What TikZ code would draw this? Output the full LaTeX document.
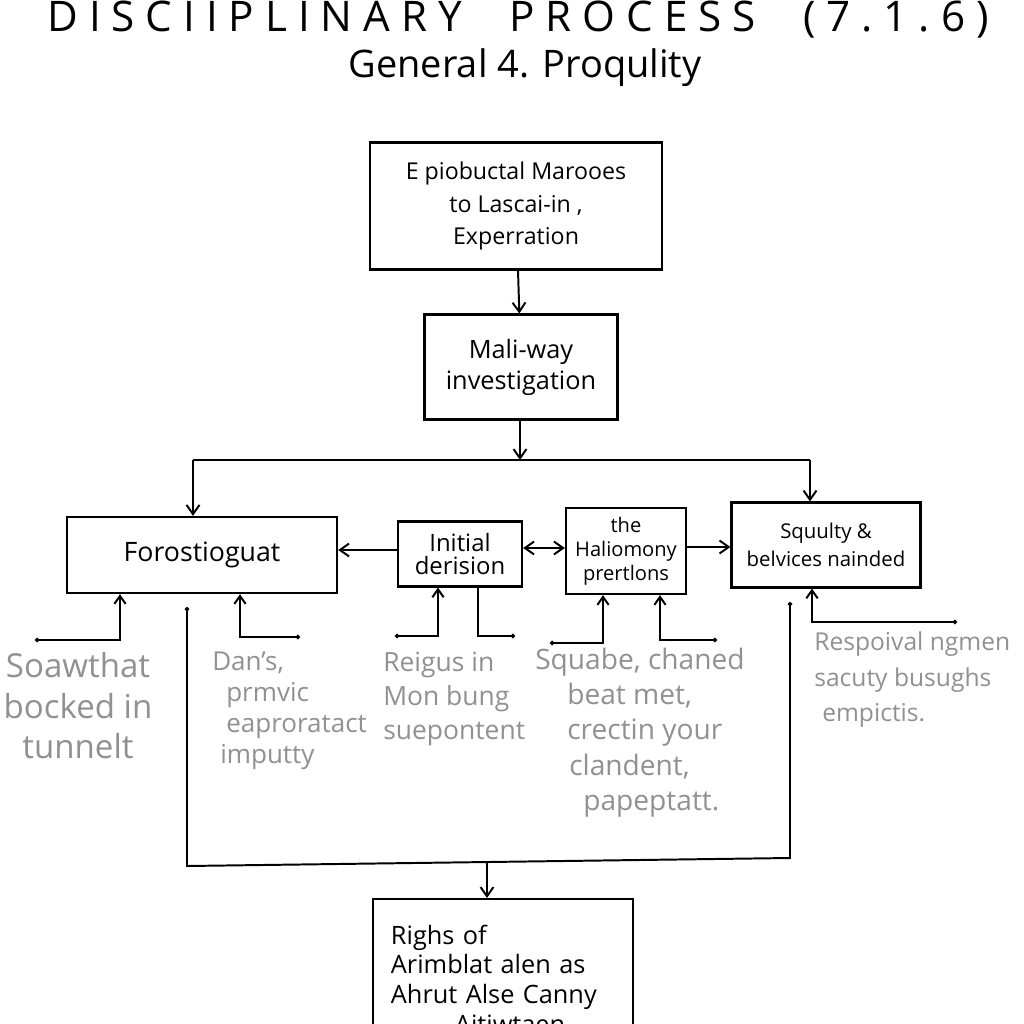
\documentclass[tikz,border=0pt]{standalone}
\usepackage{fontspec}
\setmainfont{Open Sans}
\newfontfamily\titlefont[LetterSpace=26]{Open Sans}
\usetikzlibrary{arrows.meta,calc}
\definecolor{pencil}{gray}{0.57}
\newcommand\fsz[2]{\fontsize{#1}{#2}\selectfont}

\begin{document}
\begin{tikzpicture}[x=0.025cm, y=-0.025cm,
		box/.style={draw, line width=1.6pt, inner sep=0pt, align=center},
		flow/.style={line width=1.4pt, -{Straight Barb[angle=70:8pt]}},
		feed/.style={line width=1.4pt, {Circle[length=3pt]}-{Straight Barb[angle=70:7pt]}},
		note/.style={text=pencil, align=left, inner sep=0pt}]
			%%%%% START %%%%%
			\clip (0,0) rectangle (1024,1024);
			\fill[white] (0,0) rectangle (1024,1024);
			
			\node[font=\titlefont\fsz{30}{34}] (title) at (518,20) {DISCIIPLINARY\hspace{18pt} PROCESS\hspace{18pt} (7.1.6)};
			\node[font=\fsz{27}{32}] (sub) at (525,68) {General 4. Proqulity};
			
			% main column
			\node[box, font=\fsz{16.5}{23}, minimum width=7.3cm, minimum height=3.18cm] (start) at (516,206) {E piobuctal Marooes\\ to Lascai-in ,\\ Experration};
			\node[box, font=\fsz{18}{22}, minimum width=4.82cm, minimum height=2.62cm] (inv) at (521,367) {Mali-way\\ investigation};
			
			% row of boxes
			\node[box, font=\fsz{19}{22}, minimum width=6.75cm, minimum height=1.9cm] (foros) at (202,555) {Forostioguat};
			\node[box, font=\fsz{17}{17}, minimum width=3.1cm, minimum height=1.62cm] (init) at (460,554) {Initial\\ derision};
			\node[box, font=\fsz{14.3}{17}, minimum width=3cm, minimum height=2.15cm] (halio) at (626,551) {the\\ Haliomony\\ prertlons};
			\node[box, font=\fsz{14.5}{20}, minimum width=4.72cm, minimum height=2.12cm] (squl) at (826,545) {Squulty \&\\ belvices nainded};
			
			\node[box, font=\fsz{18}{21}, text width=5.6cm, minimum width=6.48cm, minimum height=4cm, align=left, anchor=north] (rights) at (503,898) {Righs of\\ Arimblat alen as\\ Ahrut Alse Canny\\ \hspace*{1.6cm}Aitiwtaen};
			
			\draw[flow] (start) -- (inv);
			\coordinate (split) at (520,460);
			\coordinate (bl) at (193,460);
			\coordinate (br) at (810,460);
			\draw[flow] (inv.south -| split) -- (split);
			\draw[line width=1.4pt] (bl) -- (br);
			\draw[flow] (bl) -- (bl |- foros.north);
			\draw[flow] (br) -- (br |- squl.north);
			
			\draw[flow] (init.west |- 0,550) -- (foros.east |- 0,550);
			\draw[flow, {Straight Barb[angle=70:8pt]}-{Straight Barb[angle=70:8pt]}] (init.east |- 0,548) -- (halio.west |- 0,548);
			\draw[flow] (halio.east |- 0,547) -- (squl.west |- 0,547);
			
			% feeders under the row
			\coordinate (fa) at (35,640);
			\coordinate (fat) at (120,640);
			\draw[feed] (fa) -- (fat) -- (fat |- foros.south);
			\coordinate (fb) at (300,637);
			\coordinate (fbt) at (240,637);
			\draw[feed] (fb) -- (fbt) -- (fbt |- foros.south);
			\coordinate (ia) at (395,636);
			\coordinate (iat) at (438,636);
			\draw[feed] (ia) -- (iat) -- (iat |- init.south);
			\coordinate (ib) at (478,636);
			\coordinate (ibe) at (515,636);
			\draw[line width=1.4pt, -{Circle[length=3pt]}] (ib |- init.south) -- (ib) -- (ibe);
			\coordinate (ha) at (550,643);
			\coordinate (hat) at (603,643);
			\draw[feed] (ha) -- (hat) -- (hat |- halio.south);
			\coordinate (hb) at (717,640);
			\coordinate (hbt) at (660,640);
			\draw[feed] (hb) -- (hbt) -- (hbt |- halio.south);
			\coordinate (sa) at (957,622);
			\coordinate (sat) at (812,622);
			\draw[feed] (sa) -- (sat) -- (sat |- squl.south);
			
			% big loop down to the rights box
			\coordinate (lt) at (187,607);
			\coordinate (lb) at (187,866);
			\coordinate (rb) at (790,858);
			\coordinate (rt) at (790,602);
			\draw[line width=1.4pt, {Circle[length=3pt]}-{Circle[length=3pt]}] (lt) -- (lb) -- (rb) -- (rt);
			\coordinate (merge) at (487,862);
			\draw[flow] (merge) -- (merge |- rights.north);
			
			% pencil notes
			\node[note, font=\fsz{23.5}{29}, align=center, anchor=north] (soaw) at (78,652) {Soawthat\\ bocked in\\ tunnelt};
			\node[note, font=\fsz{18.5}{22}, anchor=north west] (dans) at (212,652) {Dan's,\\ \hspace*{0.35cm}prmvic\\ \hspace*{0.35cm}eaproratact\\ \hspace*{0.2cm}imputty};
			\node[note, font=\fsz{18.8}{24}, anchor=north west] (reig) at (383,652) {Reigus in\\ Mon bung\\ suepontent};
			\node[note, font=\fsz{20}{25}, anchor=north west] (squa) at (535,648) {Squabe, chaned\\ \hspace*{0.8cm}beat met,\\ \hspace*{0.8cm}crectin your\\ \hspace*{0.85cm}clandent,\\ \hspace*{1.2cm}papeptatt.};
			\node[note, font=\fsz{17.5}{25}, anchor=north west] (resp) at (814,632) {Respoival ngmen\\ sacuty busughs\\ \hspace*{0.2cm}empictis.};
			%%%%% END %%%%%
		\end{tikzpicture}
\end{document}
